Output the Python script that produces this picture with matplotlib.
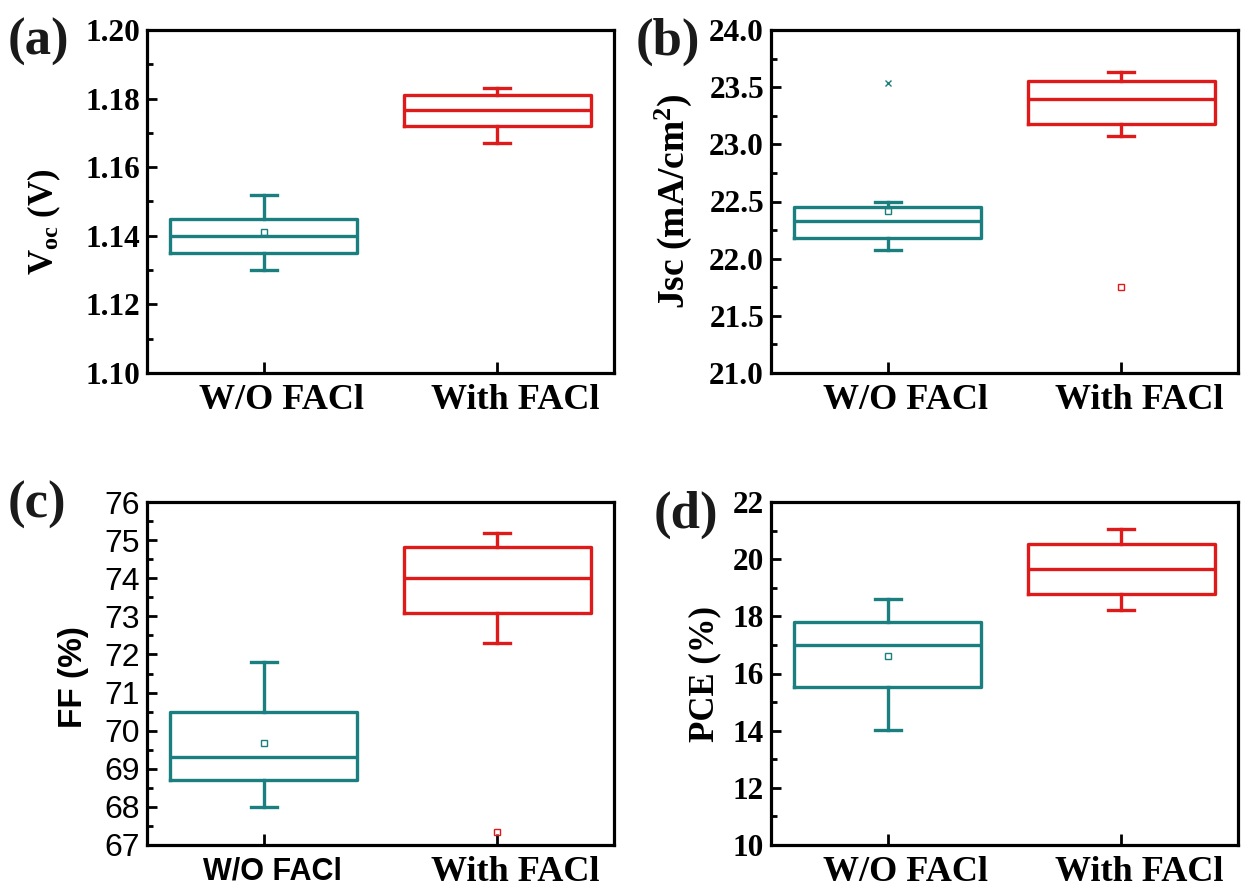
import numpy as np
import matplotlib
matplotlib.use("Agg")
import matplotlib.pyplot as plt
import matplotlib.transforms as mtransforms
from matplotlib.ticker import MultipleLocator

plt.rcParams['font.family'] = 'Liberation Serif'
plt.rcParams['font.weight'] = 'bold'
plt.rcParams['axes.labelweight'] = 'bold'
plt.rcParams['mathtext.fontset'] = 'custom'
plt.rcParams['mathtext.rm'] = 'Liberation Serif:bold'
plt.rcParams['mathtext.bf'] = 'Liberation Serif:bold'
plt.rcParams['mathtext.it'] = 'Liberation Serif:bold'

groups = ['W/O FACl', 'With FACl']
teal = '#1b7f7f'
red = '#de1a1a'

# box stats: whislo, q1, med, q3, whishi
voc_wo = [1.130, 1.135, 1.140, 1.145, 1.152]
voc_with = [1.167, 1.172, 1.1767, 1.181, 1.183]
voc_mean_wo = 1.141

jsc_wo = [22.08, 22.18, 22.33, 22.45, 22.50]
jsc_with = [23.07, 23.18, 23.40, 23.55, 23.63]
jsc_mean_wo = 22.42
jsc_max_wo = 23.54
jsc_mark_with = 21.75

ff_wo = [68.0, 68.7, 69.31, 70.5, 71.8]
ff_with = [72.3, 73.1, 74.01, 74.81, 75.19]
ff_mean_wo = 69.67
ff_mark_with = 67.35

pce_wo = [14.01, 15.53, 17.0, 17.79, 18.62]
pce_with = [18.21, 18.79, 19.66, 20.52, 21.04]
pce_mean_wo = 16.61

fig = plt.figure(figsize=(12.43, 8.90), dpi=100)

W, H = 1243, 890
def axes_at(left, top, right, bottom):
    return fig.add_axes([left / W, 1 - bottom / H, (right - left) / W, (bottom - top) / H])

ax_a = axes_at(147, 30, 614, 373)
ax_b = axes_at(771, 30, 1238, 373)
ax_c = axes_at(147, 502, 614, 845)
ax_d = axes_at(771, 502, 1238, 845)


def stats(vals):
    lo, q1, med, q3, hi = vals
    return dict(whislo=lo, q1=q1, med=med, q3=q3, whishi=hi, fliers=[])


def draw_boxes(ax, wo, wi):
    for pos, vals, col in [(0, wo, teal), (1, wi, red)]:
        lp = dict(color=col, linewidth=2.4)
        ax.bxp([stats(vals)], positions=[pos], widths=0.8, showfliers=False,
               boxprops=lp, medianprops=lp, whiskerprops=lp, capprops=lp,
               capwidths=0.11, manage_ticks=False)


def style(ax, ylim, major, minor, tick_font, tick_size):
    ax.set_xlim(-0.5, 1.5)
    ax.set_ylim(*ylim)
    ax.yaxis.set_major_locator(MultipleLocator(major))
    ax.yaxis.set_minor_locator(MultipleLocator(minor))
    ax.set_xticks([0, 1])
    ax.tick_params(axis='y', which='major', direction='in', length=7, width=2,
                   left=True, right=False, pad=5)
    ax.tick_params(axis='y', which='minor', direction='in', length=4, width=2,
                   left=True, right=False)
    ax.tick_params(axis='x', which='both', direction='in', length=8, width=2,
                   top=False, pad=8)
    for sp in ax.spines.values():
        sp.set_linewidth(2.3)
    for lab in ax.get_yticklabels():
        lab.set_fontfamily(tick_font)
        lab.set_fontsize(tick_size)
        if tick_font == 'Liberation Sans':
            lab.set_fontweight('normal')


def xlabels(ax, fonts, shifts=(0.18, 0.18)):
    ax.set_xticklabels(groups, fontsize=26)
    for lab, f, s in zip(ax.get_xticklabels(), fonts, shifts):
        lab.set_fontfamily(f)
        if f == 'Liberation Sans':
            lab.set_fontsize(22)
        off = mtransforms.ScaledTranslation(s, 0, fig.dpi_scale_trans)
        lab.set_transform(lab.get_transform() + off)


# (a) Voc
draw_boxes(ax_a, voc_wo, voc_with)
ax_a.plot([0], [voc_mean_wo], 's', ms=4, mfc='none', mec=teal, mew=1)
style(ax_a, (1.10, 1.20), 0.02, 0.01, 'Liberation Serif', 22.5)
ax_a.yaxis.set_major_formatter(plt.FormatStrFormatter('%.2f'))
xlabels(ax_a, ['Liberation Serif', 'Liberation Serif'])
ax_a.set_ylabel(r'V$_{\mathrm{oc}}$ (V)', fontsize=25)
ax_a.yaxis.set_label_coords(-0.18, 0.44)

# (b) Jsc
draw_boxes(ax_b, jsc_wo, jsc_with)
ax_b.plot([0], [jsc_mean_wo], 's', ms=4, mfc='none', mec=teal, mew=1)
ax_b.plot([0], [jsc_max_wo], 'x', ms=4, color=teal, mew=1)
ax_b.plot([1], [jsc_mark_with], 's', ms=4, mfc='none', mec=red, mew=1)
style(ax_b, (21.0, 24.0), 0.5, 0.25, 'Liberation Serif', 22.5)
ax_b.yaxis.set_major_formatter(plt.FormatStrFormatter('%.1f'))
xlabels(ax_b, ['Liberation Serif', 'Liberation Serif'])
ax_b.set_ylabel(r'Jsc (mA/cm$^{2}$)', fontsize=27)
ax_b.yaxis.set_label_coords(-0.165, 0.5)

# (c) FF
draw_boxes(ax_c, ff_wo, ff_with)
ax_c.plot([0], [ff_mean_wo], 's', ms=4, mfc='none', mec=teal, mew=1)
ax_c.plot([1], [ff_mark_with], 's', ms=4, mfc='none', mec=red, mew=1)
style(ax_c, (67, 76), 1, 0.5, 'Liberation Sans', 23)
xlabels(ax_c, ['Liberation Sans', 'Liberation Serif'], shifts=(0.09, 0.18))
ax_c.set_ylabel('FF (%)', fontsize=24, fontfamily='Liberation Sans')
ax_c.yaxis.set_label_coords(-0.125, 0.49)

# (d) PCE
draw_boxes(ax_d, pce_wo, pce_with)
ax_d.plot([0], [pce_mean_wo], 's', ms=4, mfc='none', mec=teal, mew=1)
style(ax_d, (10, 22), 2, 1, 'Liberation Serif', 22.5)
xlabels(ax_d, ['Liberation Serif', 'Liberation Serif'])
ax_d.set_ylabel('PCE (%)', fontsize=25)
ax_d.yaxis.set_label_coords(-0.107, 0.5)

# panel letters
for txt, x, y in [('(a)', 8, 42), ('(b)', 636, 42), ('(c)', 8, 505), ('(d)', 654, 515)]:
    fig.text(x / W, 1 - y / H, txt, fontsize=38, fontweight='bold',
             ha='left', va='center', color='#1a1a1a')

fig.savefig('out.png', dpi=100)
